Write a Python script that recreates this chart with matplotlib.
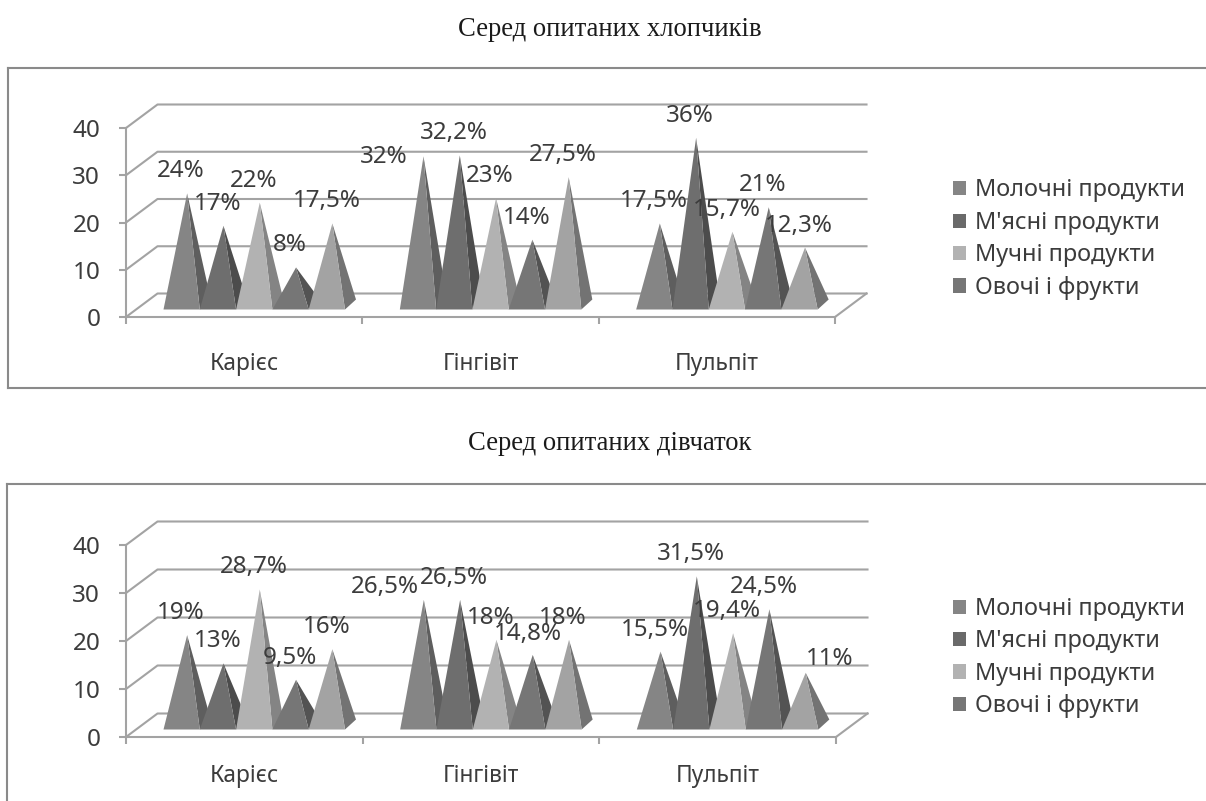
import matplotlib
matplotlib.use('Agg')
import matplotlib.pyplot as plt
from matplotlib.lines import Line2D
from matplotlib.patches import Patch, Polygon

categories = ['Карієс', 'Гінгівіт', 'Пульпіт']
legend_names = ['Молочні продукти', "М'ясні продукти", 'Мучні продукти', 'Овочі і фрукти']

boys_values = [
    [24, 17, 22, 8, 17.5],
    [32, 32.2, 23, 14, 27.5],
    [17.5, 36, 15.7, 21, 12.3],
]
boys_labels = [
    ['24%', '17%', '22%', '8%', '17,5%'],
    ['32%', '32,2%', '23%', '14%', '27,5%'],
    ['17,5%', '36%', '15,7%', '21%', '12,3%'],
]
girls_values = [
    [19, 13, 28.7, 9.5, 16],
    [26.5, 26.5, 18, 14.8, 18],
    [15.5, 31.5, 19.4, 24.5, 11],
]
girls_labels = [
    ['19%', '13%', '28,7%', '9,5%', '16%'],
    ['26,5%', '26,5%', '18%', '14,8%', '18%'],
    ['15,5%', '31,5%', '19,4%', '24,5%', '11%'],
]

W, H = 1206, 801
FONT = 'Noto Sans'
GRID = '#a3a3a3'
TEXT = '#3c3c3c'
LW = 1.5

# front face, side face for each of the five pyramids in a group
face_colors = ['#858585', '#6e6e6e', '#b2b2b2', '#767676', '#a3a3a3']
side_colors = ['#5e5e5e', '#4c4c4c', '#848484', '#535353', '#737373']
legend_colors = ['#858585', '#6a6a6a', '#b2b2b2', '#767676']

fig = plt.figure(figsize=(W / 100, H / 100), dpi=100, facecolor='white')


def fx(px):
    return px / W


def fy(px):
    return 1 - px / H


def frame_line(x0, y0, x1, y1):
    fig.add_artist(Line2D([fx(x0), fx(x1)], [fy(y0), fy(y1)], color='#8a8a8a', lw=LW))


def draw_panel(values, labels, left, right, y0, y40, shifts, legend_top, cat_pad):
    ax = fig.add_axes([fx(left), fy(y0), fx(right - left), fy(y40) - fy(y0)])
    ax.set_xlim(0, 3)
    ax.set_ylim(0, 40)
    ax.patch.set_alpha(0)
    cat_px = (right - left) / 3
    val_px = (y0 - y40) / 40

    # walls and floor lines
    depth_x = 31.5 / cat_px
    depth_y = 23.5 / val_px
    for v in range(0, 50, 10):
        ax.plot([0, depth_x, 3 + depth_x], [v, v + depth_y, v + depth_y],
                color=GRID, lw=LW, clip_on=False, zorder=1)
    ax.plot([3, 3 + depth_x], [0, depth_y], color=GRID, lw=LW, clip_on=False, zorder=1)

    # pyramids
    width = 36.3 / cat_px
    start = 37.5 / cat_px
    base = 7.5 / val_px
    side_x = 11 / cat_px
    side_y = 10 / val_px
    z = 2
    for c, group in enumerate(values):
        for s, v in enumerate(group):
            x = c + start + s * width
            tip = (x + width / 2 + side_x / 2, base + side_y / 2 + v * 0.98)
            ax.add_patch(Polygon([(x + width, base), (x + width + side_x, base + side_y), tip],
                                 closed=True, fc=side_colors[s], ec='none', clip_on=False, zorder=z))
            ax.add_patch(Polygon([(x, base), (x + width, base), tip],
                                 closed=True, fc=face_colors[s], ec='none', clip_on=False, zorder=z + 0.5))
            z += 1
            dx, dy = shifts.get((c, s), (-6, 22))
            ax.annotate(labels[c][s], tip, xytext=(dx, dy), textcoords='offset pixels',
                        ha='center', va='center', fontsize=17.4, color=TEXT, family=FONT,
                        annotation_clip=False, zorder=40)

    for side in ['top', 'right']:
        ax.spines[side].set_visible(False)
    for side in ['left', 'bottom']:
        ax.spines[side].set_color(GRID)
        ax.spines[side].set_linewidth(LW)
        ax.spines[side].set_zorder(1)

    ax.set_yticks(range(0, 50, 10))
    ax.set_xticks(range(4))
    ax.set_xticklabels([])
    ax.set_xticks([0.5, 1.5, 2.5], minor=True)
    ax.set_xticklabels(categories, minor=True, fontsize=16.4, color=TEXT, family=FONT)
    ax.tick_params(axis='x', which='major', length=5, width=LW, color=GRID)
    ax.tick_params(axis='x', which='minor', length=0, pad=cat_pad)
    ax.tick_params(axis='y', length=5, width=LW, color=GRID, pad=13.5, labelsize=17.5, labelcolor=TEXT)
    for t in ax.get_yticklabels():
        t.set_family(FONT)

    handles = [Patch(fc=col, ec='none') for col in legend_colors]
    fig.legend(handles, legend_names, loc='upper left',
               bbox_to_anchor=(fx(953), fy(legend_top)), frameon=False,
               prop={'family': FONT, 'size': 16.9}, labelcolor=TEXT,
               handlelength=0.56, handleheight=0.56, handletextpad=0.38,
               labelspacing=0.36, borderpad=0, borderaxespad=0)
    return ax


# title text
fig.text(fx(610), fy(29), 'Серед опитаних хлопчиків', ha='center', va='center',
         family='Liberation Serif', fontsize=19.2, color='#1a1a1a')
fig.text(fx(610), fy(444), 'Серед опитаних дівчаток', ha='center', va='center',
         family='Liberation Serif', fontsize=19.2, color='#1a1a1a')

# frames around the charts, cut by the right / bottom edge
frame_line(8, 68, W, 68)
frame_line(8, 68, 8, 388)
frame_line(8, 388, W, 388)
frame_line(7, 484, W, 484)
frame_line(7, 484, 7, H)

draw_panel(boys_values, boys_labels, 126, 835, 317, 128, {(1, 0): (-40, -1)}, 178.5, 25)
draw_panel(girls_values, girls_labels, 126, 836, 737, 545,
           {(1, 0): (-39, 13), (1, 3): (-5, 21), (2, 4): (24, 14)}, 597, 19.5)

plt.savefig('out.png', dpi=100)
plt.close()
